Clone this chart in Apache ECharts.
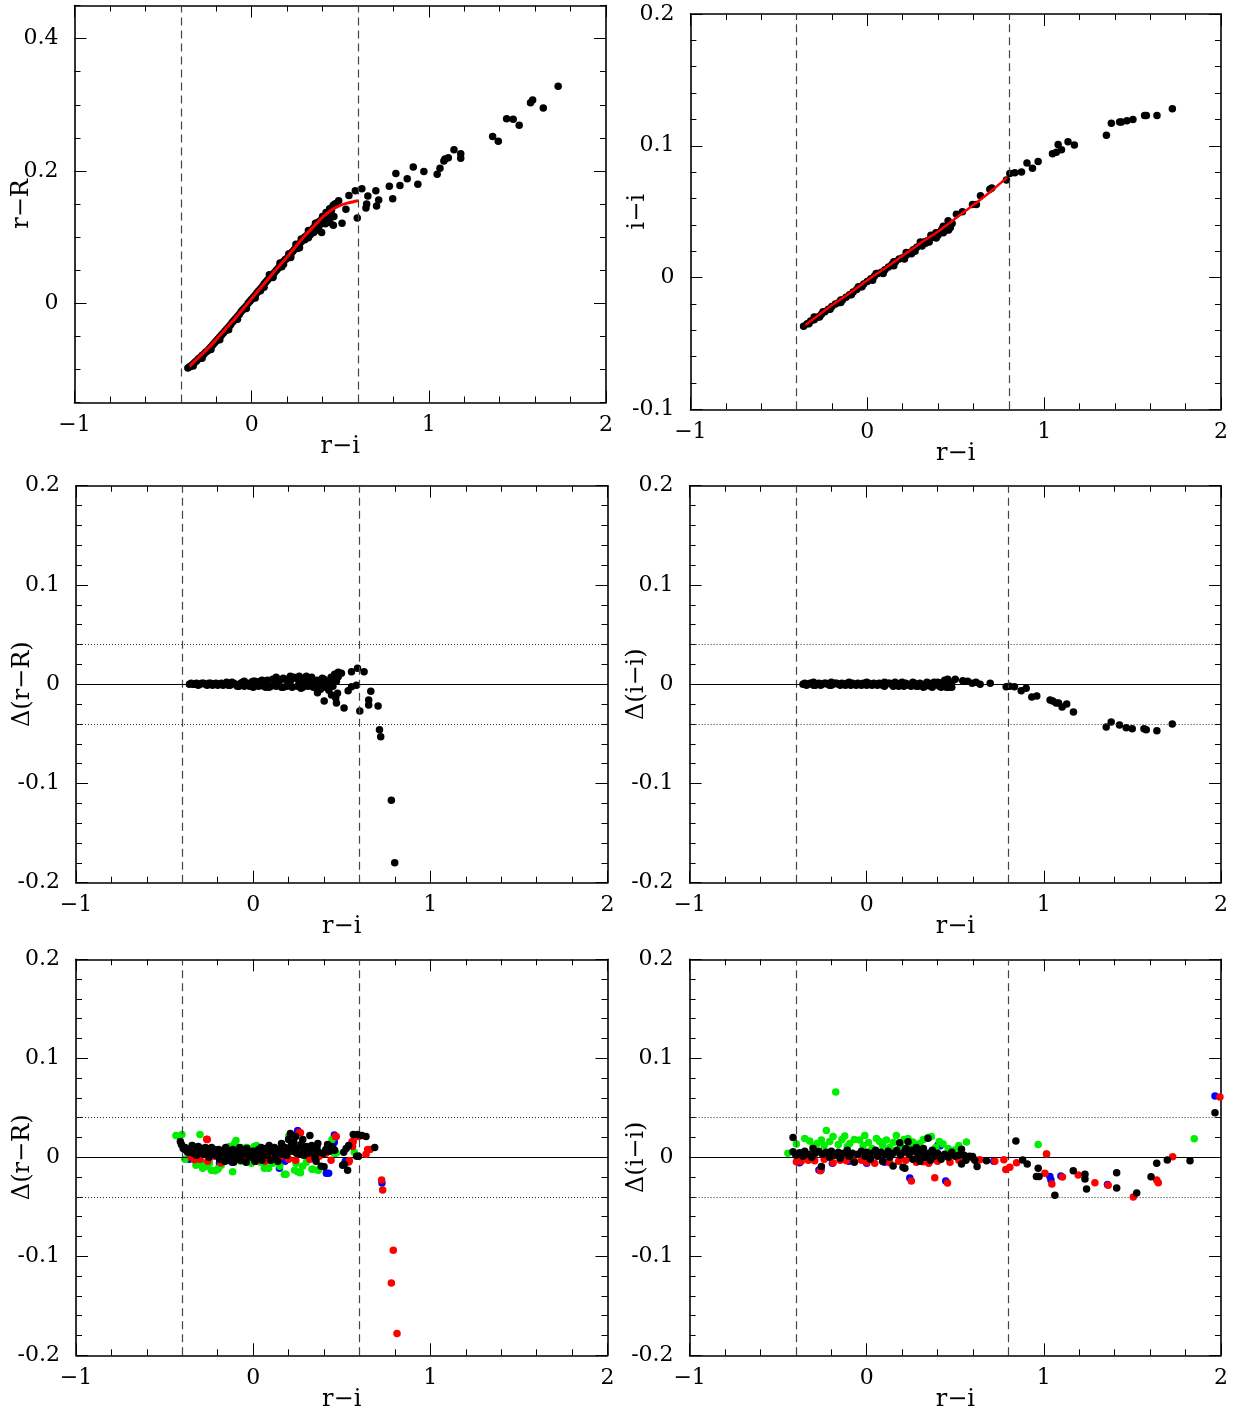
<!DOCTYPE html>
<html><head><meta charset="utf-8">
<script src="https://cdn.jsdelivr.net/npm/echarts/dist/echarts.min.js"></script>
<style>html,body{margin:0;padding:0;background:#fff}#c{width:1235px;height:1414px}</style>
</head><body><div id="c"></div>
<script>
// ---------------- DATA ----------------
const xTickVals = [-1, 0, 1, 2];
const xTickText = ['\u22121', '0', '1', '2'];
const yTicksTop1 = [0, 0.2, 0.4];
const yTickText1 = ['0', '0.2', '0.4'];
const yTicksTop2 = [-0.1, 0, 0.1, 0.2];
const yTickText2 = ['-0.1', '0', '0.1', '0.2'];
const yTicksRes = [-0.2, -0.1, 0, 0.1, 0.2];
const yTickTextRes = ['-0.2', '-0.1', '0', '0.1', '0.2'];

const cutsLeft = [-0.4, 0.6];
const cutsRight = [-0.4, 0.8];
const tolLines = [0.04, -0.04];

// Panel 1: r-R vs r-i
const p1FitX = [-0.35,-0.3,-0.25,-0.2,-0.15,-0.1,-0.05,0,0.05,0.1,0.15,0.2,0.25,0.3,0.35,0.4,0.45,0.5,0.55,0.6];
const p1FitY = [-0.095,-0.082,-0.069,-0.055,-0.040,-0.025,-0.009,0.007,0.023,0.039,0.055,0.070,0.086,0.102,0.116,0.130,0.141,0.148,0.152,0.155];
const p1Pts = [[-0.36,-0.098],[-0.35,-0.096],[-0.34,-0.094],[-0.33,-0.092],[-0.32,-0.089],[-0.31,-0.087],[-0.30,-0.084],[-0.29,-0.082],[-0.28,-0.079],[-0.27,-0.077],[-0.26,-0.074],[-0.25,-0.072],[-0.24,-0.069],[-0.23,-0.066],[-0.22,-0.063],[-0.21,-0.060],[-0.20,-0.057],[-0.19,-0.054],[-0.18,-0.051],[-0.17,-0.048],[-0.16,-0.045],[-0.15,-0.042],[-0.14,-0.039],[-0.13,-0.036],[-0.12,-0.033],[-0.11,-0.029],[-0.10,-0.026],[-0.09,-0.023],[-0.08,-0.020],[-0.07,-0.017],[-0.06,-0.013],[-0.05,-0.010],[-0.04,-0.007],[-0.03,-0.004],[-0.02,0.000],[-0.01,0.003],[0.00,0.006],[0.01,0.009],[0.02,0.012],[0.03,0.016],[0.04,0.019],[0.05,0.022],[0.06,0.025],[0.07,0.029],[0.08,0.032],[0.09,0.035],[0.10,0.038],[0.11,0.041],[0.12,0.044],[0.13,0.047],[0.14,0.050],[0.15,0.053],[0.16,0.057],[0.17,0.060],[0.18,0.063],[0.19,0.066],[0.20,0.068],[0.21,0.071],[0.22,0.074],[0.23,0.078],[0.24,0.081],[0.25,0.084],[0.26,0.087],[0.27,0.090],[0.28,0.093],[0.29,0.097],[0.30,0.100],[0.31,0.102],[0.32,0.105],[0.33,0.108],[0.34,0.111],[0.35,0.114],[0.36,0.117],[0.37,0.120],[0.38,0.123],[0.39,0.125],[0.40,0.128],[0.41,0.130],[0.42,0.133],[0.43,0.135],[0.44,0.138],[0.45,0.140],
 [0.10,0.043],[0.16,0.061],[0.21,0.075],[0.25,0.089],[0.28,0.097],[0.32,0.110],[0.36,0.121],[0.40,0.131],[0.42,0.137],[0.44,0.143],[0.46,0.147],[0.47,0.150],[0.05,0.019],[0.12,0.040],[0.18,0.059],[0.22,0.070],[0.26,0.083],[0.30,0.096],[0.33,0.103],[0.35,0.107],[0.37,0.113],[0.38,0.116],
 [-0.33,-0.095],[-0.28,-0.083],[-0.23,-0.070],[-0.18,-0.055],[-0.13,-0.040],[-0.08,-0.024],[-0.03,-0.008],[0.02,0.008],[0.07,0.024],[0.12,0.039],[0.17,0.055],[0.22,0.069],[0.27,0.084],[0.32,0.099],[0.36,0.110],[0.40,0.122],[0.43,0.128],
 [1.730,0.328],[1.574,0.303],[1.586,0.307],[1.646,0.295],[1.439,0.279],[1.476,0.278],[1.510,0.269],[1.360,0.252],[1.392,0.245],[1.142,0.232],[1.180,0.226],[1.180,0.219],[1.110,0.220],[1.091,0.218],[1.085,0.215],[1.063,0.204],[1.047,0.195],[0.972,0.199],[0.912,0.206],[0.938,0.180],[0.878,0.188],[0.837,0.178],[0.814,0.196],[0.777,0.177],[0.796,0.158],[0.701,0.170],[0.717,0.156],[0.705,0.147],[0.656,0.162],[0.649,0.150],[0.645,0.144],[0.622,0.173],[0.585,0.170],[0.549,0.163],[0.596,0.129],[0.532,0.142],[0.510,0.121],[0.491,0.155],[0.480,0.151],[0.461,0.148],[0.450,0.142],[0.464,0.131],[0.461,0.118],[0.442,0.122],[0.423,0.136],[0.416,0.120],[0.395,0.107],[0.367,0.121]];

// Panel 2: i-i vs r-i
const p2FitX = [-0.35,-0.3,-0.2,-0.1,0,0.1,0.2,0.3,0.4,0.5,0.6,0.7,0.79];
const p2FitY = [-0.036,-0.031,-0.021,-0.012,-0.002,0.007,0.0165,0.026,0.035,0.045,0.055,0.0655,0.076];
const p2Pts = [[-0.36,-0.037],[-0.34,-0.035],[-0.32,-0.033],[-0.30,-0.032],[-0.28,-0.030],[-0.26,-0.028],[-0.24,-0.026],[-0.22,-0.024],[-0.20,-0.022],[-0.18,-0.020],[-0.16,-0.019],[-0.14,-0.017],[-0.12,-0.015],[-0.10,-0.013],[-0.08,-0.011],[-0.06,-0.009],[-0.04,-0.007],[-0.02,-0.005],[0.00,-0.003],[0.02,-0.001],[0.04,0.001],[0.06,0.003],[0.08,0.004],[0.10,0.006],[0.12,0.008],[0.14,0.010],[0.16,0.012],[0.18,0.014],[0.20,0.015],[0.22,0.017],[0.24,0.019],[0.26,0.021],[0.28,0.023],[0.30,0.025],[0.32,0.027],[0.34,0.028],[0.36,0.030],[0.38,0.032],[0.40,0.034],[0.42,0.036],[0.44,0.038],[0.46,0.040],
 [-0.30,-0.030],[-0.25,-0.026],[-0.15,-0.017],[-0.05,-0.007],[0.05,0.003],[0.15,0.012],[0.22,0.019],[0.25,0.018],[0.30,0.027],[0.33,0.026],[0.36,0.032],[0.40,0.032],[0.43,0.039],[0.45,0.036],[0.47,0.038],[0.48,0.041],
 [-0.33,-0.035],[-0.27,-0.030],[-0.21,-0.024],[-0.15,-0.019],[-0.09,-0.013],[-0.03,-0.007],[0.03,-0.002],[0.09,0.003],[0.15,0.009],[0.21,0.014],[0.27,0.020],[0.31,0.024],[0.35,0.027],[0.39,0.030],[0.43,0.034],[0.46,0.036],
 [1.725,0.128],[1.638,0.123],[1.578,0.123],[1.568,0.123],[1.502,0.120],[1.468,0.119],[1.437,0.118],[1.427,0.118],[1.380,0.117],[1.352,0.108],[1.171,0.1005],[1.135,0.103],[1.079,0.101],[1.098,0.097],[1.069,0.095],[1.047,0.094],[0.966,0.088],[0.903,0.087],[0.934,0.083],[0.872,0.080],[0.834,0.0795],[0.806,0.079],[0.787,0.074],[0.704,0.068],[0.693,0.067],[0.640,0.062],[0.595,0.0555],[0.617,0.0555],[0.538,0.050],[0.504,0.048],[0.457,0.043],[0.425,0.037],[0.388,0.034]];

// Panel 3: Delta(r-R)
const p3Pts = [[-0.36,0.000],[-0.34,0.000],[-0.32,0.001],[-0.30,0.000],[-0.28,0.001],[-0.26,-0.001],[-0.24,0.001],[-0.22,0.000],[-0.20,-0.001],[-0.18,0.001],[-0.16,0.000],[-0.14,-0.001],[-0.12,0.002],[-0.10,0.000],[-0.08,-0.002],[-0.06,0.002],[-0.04,0.000],[-0.02,-0.002],[0.00,0.003],[0.02,-0.001],[0.04,0.003],[0.06,-0.002],[0.08,0.004],[0.10,-0.002],[0.12,0.004],[0.14,0.000],[0.16,-0.003],[0.18,0.005],[0.20,0.001],[0.22,-0.003],[0.24,0.006],[0.26,0.002],[0.28,-0.003],[0.30,0.006],[0.32,0.001],[0.34,-0.003],[0.36,0.004],[0.38,0.000],[0.40,0.005],[0.42,0.001],
 [-0.35,0.001],[-0.33,0.000],[-0.31,-0.001],[-0.29,0.001],[-0.27,0.000],[-0.25,0.001],[-0.23,-0.001],[-0.21,0.001],[-0.19,0.000],[-0.17,-0.001],[-0.15,0.002],[-0.13,-0.001],[-0.11,0.001],[-0.09,-0.002],[-0.07,0.001],[-0.05,0.003],[-0.03,-0.001],[-0.01,0.002],[0.01,0.003],[0.03,-0.002],[0.05,0.004],[0.07,0.002],[0.09,-0.003],[0.11,0.005],[0.13,-0.002],[0.15,0.004],[0.17,0.006],[0.19,-0.002],[0.21,0.003],[0.23,0.007],[0.25,-0.002],[0.27,0.005],[0.29,0.002],[0.31,-0.002],[0.33,0.007],[0.35,0.002],[0.37,-0.002],[0.39,0.006],[0.41,-0.003],[0.43,0.003],[0.45,-0.002],
 [0.13,0.007],[0.21,0.008],[0.26,0.008],[0.30,0.008],[0.33,0.005],[0.36,-0.004],[0.38,-0.005],[0.44,0.007],[0.46,0.010],[0.48,0.012],[0.47,0.003],[0.27,-0.004],[0.17,-0.003],[0.07,-0.003],[-0.05,-0.002],[0.0,-0.003],
 [0.799,-0.180],[0.780,-0.117],[0.720,-0.053],[0.713,-0.046],[0.705,-0.022],[0.652,-0.021],[0.652,-0.016],[0.664,-0.007],[0.602,-0.027],[0.626,0.0126],[0.589,0.016],[0.555,0.0126],[0.583,-0.001],[0.555,-0.0025],[0.536,-0.0066],[0.513,-0.024],[0.498,0.011],[0.480,0.0076],[0.470,-0.019],[0.466,-0.014],[0.476,-0.009],[0.442,-0.011],[0.427,-0.006],[0.420,-0.0025],[0.401,-0.017],[0.363,-0.0085]];

// Panel 4: Delta(i-i)
const p4Pts = [[-0.36,0.000],[-0.35,0.001],[-0.33,0.000],[-0.31,0.001],[-0.29,-0.001],[-0.27,0.001],[-0.25,0.000],[-0.23,0.001],[-0.21,-0.001],[-0.19,0.000],[-0.17,0.001],[-0.15,-0.001],[-0.13,0.000],[-0.11,0.001],[-0.09,-0.001],[-0.07,0.000],[-0.05,0.001],[-0.03,-0.001],[-0.01,0.000],[0.01,0.001],[0.03,-0.001],[0.05,0.000],[0.07,0.001],[0.09,-0.001],[0.11,0.000],[0.13,0.001],[0.15,-0.002],[0.17,0.000],[0.19,0.001],[0.21,-0.002],[0.23,0.000],[0.25,-0.002],[0.27,0.001],[0.29,-0.002],[0.31,0.000],[0.33,-0.002],[0.35,0.001],[0.37,-0.003],[0.39,0.001],[0.41,-0.002],[0.43,0.002],[0.45,-0.003],[0.46,0.003],[0.47,0.000],[0.48,-0.003],[0.44,0.004],[0.40,0.002],[0.20,0.002],[0.10,0.002],[0.0,0.002],[-0.1,0.002],[-0.2,0.002],[-0.3,0.002],
 [-0.34,-0.001],[-0.32,0.001],[-0.30,-0.001],[-0.28,0.0],[-0.26,-0.001],[-0.24,0.001],[-0.22,0.0],[-0.20,-0.001],[-0.18,0.001],[-0.16,0.0],[-0.14,0.001],[-0.12,-0.001],[-0.10,0.0],[-0.08,0.001],[-0.06,-0.001],[-0.04,0.0],[-0.02,0.001],[0.0,-0.001],[0.02,0.0],[0.04,0.001],[0.06,-0.001],[0.08,0.0],[0.10,-0.002],[0.12,0.001],[0.14,0.0],[0.16,0.002],[0.18,-0.002],[0.22,0.001],[0.24,-0.001],[0.26,0.002],[0.28,-0.002],[0.30,0.001],[0.32,-0.003],[0.34,0.002],[0.36,-0.002],[0.38,0.002],[0.42,-0.003],[0.44,-0.001],[0.46,-0.003],[0.48,0.002],
 [1.725,-0.040],[1.638,-0.047],[1.578,-0.046],[1.565,-0.045],[1.499,-0.045],[1.465,-0.044],[1.427,-0.041],[1.380,-0.038],[1.352,-0.043],[1.167,-0.028],[1.129,-0.020],[1.103,-0.023],[1.083,-0.019],[1.069,-0.019],[1.050,-0.017],[1.035,-0.016],[0.960,-0.012],[0.932,-0.013],[0.900,-0.004],[0.872,-0.0065],[0.834,-0.0025],[0.806,-0.002],[0.787,-0.0025],[0.697,0.001],[0.640,0.000],[0.617,0.002],[0.595,0.001],[0.570,0.003],[0.542,0.0035],[0.500,0.005],[0.457,0.005],[0.476,-0.0025]];

// Panel 5: Delta(r-R), four samples
const p5Blue = [[-0.36,-0.002],[-0.30,-0.005],[-0.25,-0.004],[-0.19,-0.006],[-0.12,-0.005],[-0.05,-0.002],[0.05,-0.004],[0.148,-0.011],[0.18,-0.004],[0.251,0.0269],[0.252,0.0268],[0.30,0.001],[0.413,-0.0162],[0.426,-0.016],[0.458,0.0225],[0.458,0.0151],[0.52,-0.004],[0.727,-0.026]];
const p5Green = [[-0.436,0.022],[-0.402,0.023],[-0.30,0.023],[-0.385,-0.002],[-0.342,0.012],[-0.323,-0.008],[-0.30,-0.006],[-0.285,-0.011],[-0.26,-0.009],[-0.247,-0.006],[-0.236,-0.013],[-0.214,-0.0135],[-0.20,-0.012],[-0.196,-0.011],[-0.18,-0.008],[-0.153,0.001],[-0.135,0.011],[-0.116,-0.0145],[-0.105,0.014],[-0.097,0.017],[-0.07,-0.004],[-0.041,0.010],[-0.035,0.010],[-0.01,-0.006],[0.006,0.011],[0.019,0.012],[0.04,-0.005],[0.063,-0.011],[0.087,-0.011],[0.11,-0.006],[0.15,-0.009],[0.176,-0.017],[0.185,-0.0172],[0.208,0.021],[0.2,0.021],[0.234,-0.013],[0.242,-0.006],[0.251,-0.0145],[0.267,-0.0155],[0.279,-0.009],[0.30,-0.005],[0.332,-0.012],[0.337,-0.012],[0.366,-0.013],[0.369,-0.0128],[0.445,0.018],[0.458,0.004],[0.469,0.004],[0.571,0.005]];
const p5Red = [[-0.35,0.000],[-0.332,-0.0024],[-0.31,0.004],[-0.257,-0.004],[-0.262,0.0182],[-0.259,0.018],[-0.24,0.006],[-0.21,0.0077],[-0.182,-0.0058],[-0.15,0.003],[-0.12,0.006],[-0.097,-0.0024],[-0.06,0.0027],[-0.03,0.001],[0.016,-0.004],[0.05,0.004],[0.09,-0.002],[0.13,0.005],[0.157,0.001],[0.20,-0.002],[0.267,0.0249],[0.26,0.025],[0.298,0.006],[0.32,-0.002],[0.373,0.001],[0.41,0.004],[0.464,0.021],[0.469,0.021],[0.543,-0.0035],[0.539,-0.0048],[0.558,0.0158],[0.561,0.011],[0.565,0.016],[0.595,0.021],[0.637,0.003],[0.646,0.008],[0.659,0.0078],[0.725,-0.023],[0.731,-0.033],[0.791,-0.094],[0.780,-0.127],[0.812,-0.178],
 [-0.30,-0.002],[-0.22,0.001],[-0.16,-0.004],[-0.08,0.005],[0.0,0.002],[0.07,-0.004],[0.11,0.002],[0.18,0.003],[0.24,-0.003],[0.35,0.004],[0.44,-0.003]];
const p5Black = [[-0.411,0.016],[-0.405,0.013],[-0.395,0.009],[-0.38,0.0075],[-0.37,0.005],[-0.36,0.008],[-0.35,0.0085],[-0.34,0.004],[-0.33,0.009],[-0.32,0.002],[-0.31,0.011],[-0.30,0.006],[-0.29,0.009],[-0.28,0.003],[-0.27,0.010],[-0.26,0.005],[-0.25,0.000],[-0.24,0.007],[-0.23,0.003],[-0.22,0.008],[-0.21,0.002],[-0.20,0.006],[-0.19,-0.002],[-0.18,0.004],[-0.17,0.007],[-0.16,-0.004],[-0.15,0.003],[-0.14,0.006],[-0.13,-0.003],[-0.12,0.002],[-0.11,-0.005],[-0.10,0.004],[-0.09,0.001],[-0.08,0.006],[-0.07,-0.003],[-0.06,0.003],[-0.05,0.007],[-0.04,-0.005],[-0.03,0.002],[-0.02,0.005],[-0.01,0.000],[0.00,0.006],[0.01,-0.004],[0.02,0.004],[0.03,0.008],[0.04,0.001],[0.05,-0.003],[0.06,0.006],[0.07,0.009],[0.08,0.002],[0.09,0.012],[0.10,-0.003],[0.11,0.006],[0.12,0.010],[0.13,0.003],[0.14,-0.004],[0.15,0.008],[0.16,0.014],[0.17,0.005],[0.18,0.010],[0.19,0.002],[0.20,0.018],[0.21,0.024],[0.215,0.012],[0.22,0.006],[0.23,0.015],[0.24,0.021],[0.25,0.009],[0.26,0.003],[0.27,0.013],[0.28,0.018],[0.29,0.007],[0.30,0.011],[0.31,0.004],[0.32,0.022],[0.33,0.012],[0.34,0.006],[0.346,0.003],[0.35,-0.001],[0.355,-0.004],[0.36,0.010],[0.37,0.005],[0.384,-0.009],[0.40,-0.0095],[0.41,0.008],[0.42,0.013],[0.44,0.011],[0.45,0.010],[0.46,0.007],[0.505,-0.008],[0.514,-0.007],[0.533,-0.013],[0.511,0.005],[0.525,0.009],[0.539,0.012],[0.565,0.023],[0.590,0.023],[0.614,0.022],[0.637,0.021],[0.595,0.001],[0.584,0.001],[0.686,0.010],
 [-0.385,0.010],[-0.345,0.012],[-0.315,0.005],[-0.275,0.007],[-0.235,0.010],[-0.195,0.008],[-0.155,0.010],[-0.115,0.008],[-0.075,0.010],[-0.035,0.009],[0.005,0.002],[0.045,0.010],[0.085,0.006],[0.125,0.000],[0.165,0.003],[0.205,0.008],[0.245,0.004],[0.285,0.002],[0.325,0.009],[0.365,0.014],[0.395,0.004],[0.43,0.006]];

// Panel 6: Delta(i-i), four samples
const p6Blue = [[-0.379,-0.0054],[-0.27,-0.0128],[-0.258,-0.0128],[-0.194,-0.0061],[-0.10,-0.004],[0.0,-0.006],[0.1,-0.005],[0.243,-0.021],[0.403,0.0125],[0.415,0.0117],[0.446,-0.024],[0.717,-0.004],[1.034,-0.0195],[1.04,-0.023],[1.096,-0.019],[1.359,-0.0276],[1.966,0.0618]];
const p6Green = [[-0.445,0.004],[-0.397,0.0135],[-0.35,0.019],[-0.322,0.0165],[-0.303,0.011],[-0.28,0.014],[-0.256,0.0175],[-0.24,0.012],[-0.228,0.027],[-0.209,0.016],[-0.19,0.021],[-0.175,0.066],[-0.16,0.013],[-0.14,0.018],[-0.124,0.0215],[-0.11,0.011],[-0.096,0.014],[-0.07,0.018],[-0.04,0.0175],[-0.02,0.012],[-0.011,0.022],[0.01,0.015],[0.03,0.009],[0.055,0.019],[0.073,0.016],[0.09,0.012],[0.111,0.0175],[0.13,0.010],[0.15,0.015],[0.167,0.022],[0.19,0.012],[0.21,0.018],[0.233,0.019],[0.25,0.011],[0.261,0.0155],[0.28,0.009],[0.299,0.014],[0.32,0.018],[0.346,0.020],[0.365,0.021],[0.39,0.010],[0.41,0.016],[0.431,0.0135],[0.46,0.009],[0.497,0.0074],[0.52,0.012],[0.563,0.0155],[0.968,0.013],[1.015,0.0033],[1.849,0.0188]];
const p6Red = [[-0.397,-0.0044],[-0.37,-0.004],[-0.33,-0.003],[-0.294,-0.0034],[-0.262,-0.0135],[-0.24,-0.002],[-0.19,-0.0054],[-0.15,-0.003],[-0.115,-0.0034],[-0.07,-0.004],[-0.03,-0.003],[0.00,-0.005],[0.045,-0.0061],[0.09,-0.004],[0.13,-0.0054],[0.18,-0.004],[0.22,-0.003],[0.252,-0.024],[0.28,-0.005],[0.318,-0.0044],[0.35,-0.006],[0.384,-0.0206],[0.40,-0.004],[0.456,-0.026],[0.47,-0.005],[0.52,-0.003],[0.56,-0.002],[0.60,-0.001],[0.638,-0.0024],[0.723,-0.004],[0.774,-0.0024],[0.785,-0.0124],[0.808,-0.010],[0.846,-0.0055],[1.006,-0.016],[1.015,0.0033],[1.045,-0.027],[1.105,-0.020],[1.194,-0.018],[1.288,-0.0256],[1.363,-0.0283],[1.505,-0.040],[1.637,-0.023],[1.646,-0.0256],[1.727,0.0006],[1.994,0.061]];
const p6Black = [[-0.416,0.020],[-0.416,0.0057],[-0.40,0.002],[-0.379,0.0047],[-0.36,0.001],[-0.35,0.006],[-0.33,0.003],[-0.31,0.000],[-0.303,0.009],[-0.29,0.004],[-0.27,0.006],[-0.256,-0.0094],[-0.25,0.003],[-0.23,0.005],[-0.21,0.000],[-0.20,0.006],[-0.18,0.002],[-0.16,0.005],[-0.15,-0.001],[-0.13,0.004],[-0.11,0.007],[-0.10,0.001],[-0.08,0.004],[-0.07,-0.005],[-0.05,0.003],[-0.03,0.006],[-0.01,0.001],[0.00,0.005],[0.02,-0.002],[0.03,0.004],[0.05,0.007],[0.06,0.001],[0.08,0.005],[0.09,-0.004],[0.10,0.003],[0.12,0.006],[0.13,0.000],[0.149,-0.0088],[0.15,0.004],[0.17,0.007],[0.186,0.0148],[0.19,0.002],[0.205,-0.010],[0.21,0.005],[0.215,-0.011],[0.22,0.009],[0.233,0.0158],[0.24,0.003],[0.25,0.007],[0.26,-0.002],[0.27,0.006],[0.28,0.010],[0.29,0.002],[0.30,-0.004],[0.31,0.005],[0.32,0.009],[0.33,0.000],[0.346,0.0192],[0.35,0.004],[0.36,-0.003],[0.37,0.007],[0.38,0.001],[0.40,0.004],[0.42,-0.002],[0.44,0.003],[0.46,0.000],[0.48,0.005],[0.50,0.001],[0.52,0.002],[0.535,0.0081],[0.535,-0.0068],[0.55,0.002],[0.56,-0.003],[0.58,0.001],[0.597,0.0007],[0.61,-0.003],[0.623,-0.0094],[0.676,-0.0036],
 [0.842,0.0165],[0.880,-0.0027],[0.906,-0.0068],[0.968,-0.011],[0.958,-0.0195],[0.973,-0.0195],[1.062,-0.0384],[1.166,-0.0135],[1.232,-0.017],[1.232,-0.022],[1.241,-0.032],[1.411,-0.0155],[1.411,-0.031],[1.524,-0.036],[1.605,-0.0196],[1.637,-0.006],[1.697,-0.0027],[1.825,-0.0034],[1.966,0.045]];

// ---------------- LAYOUT / BUILD ----------------
const FONT = 'DejaVu Serif';
const BLACK = '#000000', RED = '#ff0000', GREEN = '#00ee00', BLUE = '#0000ff';

const panels = [
  {box:{left:74.5, top:5.5, width:531.5, height:397}, ylab:'r\u2212R', ymin:-0.15, ymax:0.45, special:true, yv:yTicksTop1, yt:yTickText1, cuts:cutsLeft, res:false,
   pts:[{d:p1Pts,c:BLACK}], fit:{x:p1FitX,y:p1FitY,w:3}},
  {box:{left:690.4, top:14, width:530.6, height:395.3}, ylab:'i\u2212i', ymin:-0.1, ymax:0.2, interval:0.1, yv:yTicksTop2, yt:yTickText2, cuts:cutsRight, res:false,
   pts:[{d:p2Pts,c:BLACK}], fit:{x:p2FitX,y:p2FitY,w:2.5}},
  {box:{left:76, top:485.7, width:531.5, height:397}, ylab:'\u0394(r\u2212R)', ymin:-0.2, ymax:0.2, interval:0.1, yv:yTicksRes, yt:yTickTextRes, cuts:cutsLeft, res:true,
   pts:[{d:p3Pts,c:BLACK}]},
  {box:{left:689.6, top:485.7, width:531.4, height:397}, ylab:'\u0394(i\u2212i)', ymin:-0.2, ymax:0.2, interval:0.1, yv:yTicksRes, yt:yTickTextRes, cuts:cutsRight, res:true,
   pts:[{d:p4Pts,c:BLACK}]},
  {box:{left:76, top:959.3, width:531.5, height:396}, ylab:'\u0394(r\u2212R)', ymin:-0.2, ymax:0.2, interval:0.1, yv:yTicksRes, yt:yTickTextRes, cuts:cutsLeft, res:true,
   pts:[{d:p5Blue,c:BLUE},{d:p5Green,c:GREEN},{d:p5Red,c:RED},{d:p5Black,c:BLACK}]},
  {box:{left:689.6, top:959.3, width:531.4, height:396}, ylab:'\u0394(i\u2212i)', ymin:-0.2, ymax:0.2, interval:0.1, yv:yTicksRes, yt:yTickTextRes, cuts:cutsRight, res:true,
   pts:[{d:p6Blue,c:BLUE},{d:p6Green,c:GREEN},{d:p6Red,c:RED},{d:p6Black,c:BLACK}]}
];

function lookup(vals, texts, v) {
  for (let i = 0; i < vals.length; i++) if (Math.abs(vals[i] - v) < 1e-6) return texts[i];
  return '';
}

const grid = [], xAxis = [], yAxis = [], series = [];
const lineBase = {show:true, onZero:false, lineStyle:{color:BLACK, width:1.6}};
const tickStyle = {color:BLACK, width:1};
const labelStyle = {fontFamily:FONT, fontSize:22, color:BLACK};
const nameStyle = {fontFamily:FONT, fontSize:24, color:BLACK};

panels.forEach((p, g) => {
  grid.push(Object.assign({}, p.box));
  const xi = xAxis.length;
  ['bottom','top'].forEach(pos => {
    xAxis.push({
      gridIndex:g, type:'value', position:pos, min:-1, max:2, interval:1,
      axisLine:lineBase,
      axisTick:{show:true, inside:true, length:12, lineStyle:tickStyle},
      minorTick:{show:true, splitNumber:5, length:6, lineStyle:tickStyle},
      splitLine:{show:false}, minorSplitLine:{show:false},
      axisLabel:{show:pos==='bottom', margin:12, ...labelStyle, formatter:v => lookup(xTickVals, xTickText, v)},
      name: pos==='bottom' ? 'r\u2212i' : '', nameLocation:'middle', nameGap:32, nameMoveOverlap:false,
      nameTextStyle:nameStyle
    });
  });
  const yi = yAxis.length;
  ['left','right'].forEach(pos => {
    const common = {
      gridIndex:g, type:'value', position:pos, min:p.ymin, max:p.ymax,
      axisLine:lineBase, splitLine:{show:false}, minorSplitLine:{show:false},
      axisLabel:{show:pos==='left', margin:16, showMinLabel:true, showMaxLabel:true, ...labelStyle, formatter:v => lookup(p.yv, p.yt, v)},
      name: pos==='left' ? p.ylab : '', nameLocation:'middle', nameGap:41, nameRotate:90, nameMoveOverlap:false,
      nameTextStyle:nameStyle
    };
    if (p.special) {
      yAxis.push(Object.assign(common, {interval:0.05,
        axisTick:{show:true, inside:true, length:6, lineStyle:tickStyle}}));
    } else {
      yAxis.push(Object.assign(common, {interval:p.interval,
        axisTick:{show:true, inside:true, length:12, lineStyle:tickStyle},
        minorTick:{show:true, splitNumber:5, length:6, lineStyle:tickStyle}}));
    }
  });
  if (p.special) {
    ['left','right'].forEach(pos => {
      yAxis.push({
        gridIndex:g, type:'value', position:pos, min:p.ymin, max:p.ymax,
        axisLine:{show:false, onZero:false},
        axisTick:{show:true, inside:true, length:12, lineStyle:tickStyle, customValues:p.yv},
        splitLine:{show:false}, axisLabel:{show:false}
      });
    });
  }
  // reference lines
  const ml = p.cuts.map(v => ({xAxis:v, lineStyle:{type:[8,5], color:'#444', width:1.2}}));
  if (p.res) {
    ml.push({yAxis:0, lineStyle:{type:'solid', color:BLACK, width:1.1}});
    tolLines.forEach(v => ml.push({yAxis:v, lineStyle:{type:[1,2], color:'#333', width:1}}));
  }
  series.push({type:'scatter', xAxisIndex:xi, yAxisIndex:yi, data:[], z:1, silent:true,
    markLine:{silent:true, symbol:['none','none'], label:{show:false}, animation:false, data:ml}});
  p.pts.forEach((s, k) => {
    series.push({type:'scatter', xAxisIndex:xi, yAxisIndex:yi, data:s.d, symbol:'circle', symbolSize:7.5,
      itemStyle:{color:s.c, opacity:1}, z:3 + k, silent:true});
  });
  if (p.fit) {
    series.push({type:'line', xAxisIndex:xi, yAxisIndex:yi, data:p.fit.x.map((x, i) => [x, p.fit.y[i]]),
      showSymbol:false, smooth:0.3, lineStyle:{color:RED, width:p.fit.w}, z:10, silent:true});
  }
});

const chart = echarts.init(document.getElementById('c'), null, {renderer:'canvas'});
chart.setOption({animation:false, backgroundColor:'#ffffff', grid, xAxis, yAxis, series});
</script></body></html>
